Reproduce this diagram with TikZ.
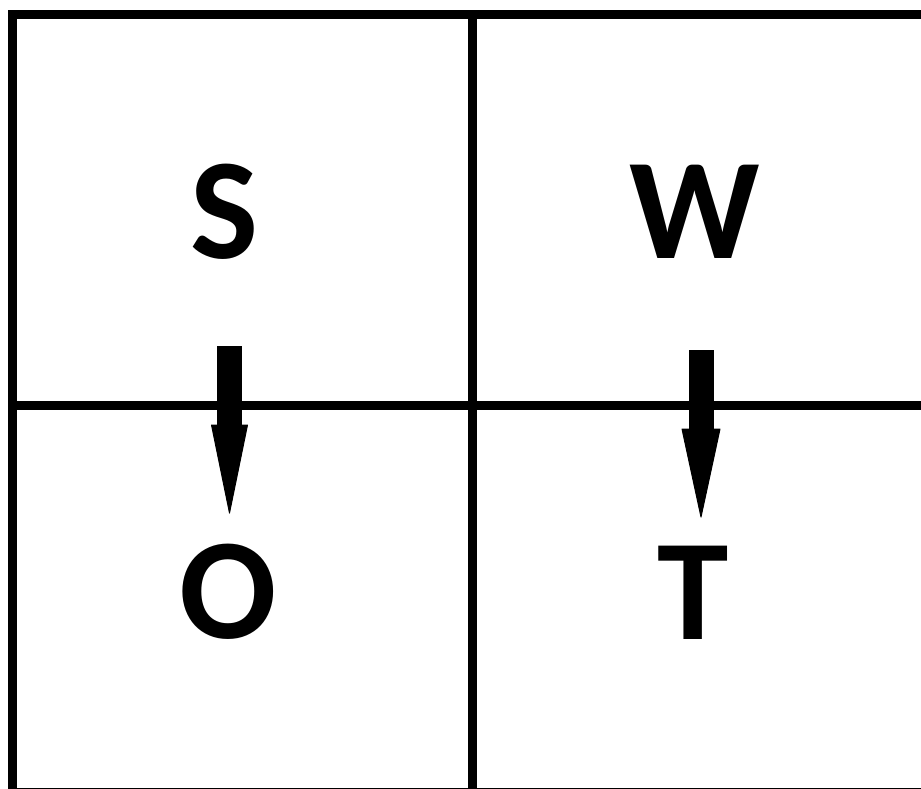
\documentclass[tikz,border=0pt]{standalone}
\usepackage{fontspec}
\setmainfont{Carlito}
\usetikzlibrary{calc}
\tikzset{
  gridline/.style={line width=9pt, draw=black},
  letter/.style={anchor=base, inner sep=0pt, font=\fontsize{144}{144}\selectfont\bfseries},
  shaft/.style={line width=25pt, draw=black},
  head/.style={fill=black, draw=black, line width=1pt, line join=round}
}
\begin{document}
\begin{tikzpicture}[x=1pt,y=-1pt]
\useasboundingbox[fill=white] (0,0) rectangle (921,789);
\draw[gridline] (12,15) rectangle (935,792);
\draw[gridline] (472,15) -- (472,792);
\draw[gridline] (12,405) -- (935,405);
\node[letter] (S) at (225,258) {S};
\node[letter] (W) at (694.5,258) {W};
\node[letter] (O) at (228.5,638) {O};
\node[letter] (T) at (693.5,639) {T};
\coordinate (s1) at (229.5,346);
\coordinate (o1) at (229.5,513);
\coordinate (w1) at (701,350);
\coordinate (t1) at (701,517);
\draw[shaft] (s1) -- ($(o1)+(0,-80)$);
\path[head] ($(o1)+(-18,-88)$) -- ($(o1)+(18,-88)$) -- (o1) -- cycle;
\draw[shaft] (w1) -- ($(t1)+(0,-80)$);
\path[head] ($(t1)+(-19,-88)$) -- ($(t1)+(19,-88)$) -- (t1) -- cycle;
\end{tikzpicture}
\end{document}
